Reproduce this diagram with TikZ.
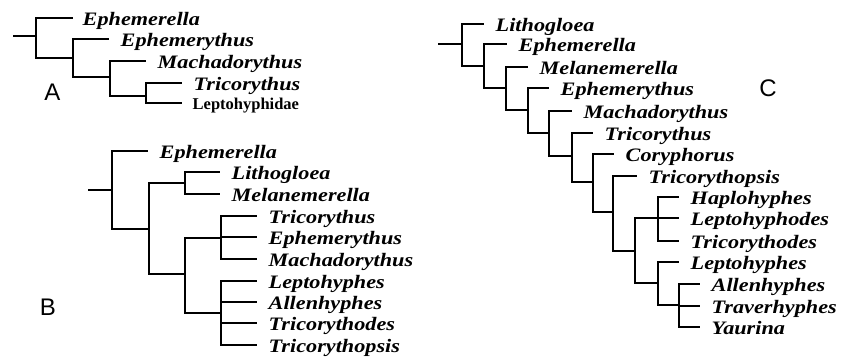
\documentclass[tikz,border=0pt]{standalone}
\usepackage{fontspec}
\setmainfont{Liberation Serif}
\newfontfamily\taxonfont[FakeStretch=1.17]{Liberation Serif Bold Italic}
\newfontfamily\panelfont{Liberation Sans}
\usetikzlibrary{positioning}

\begin{document}
\begin{tikzpicture}[
    x=1pt, y=-1pt,
    line width=1.4pt,
    node distance=11pt,
    taxon/.style={font=\taxonfont\fontsize{19}{21}\selectfont, inner sep=0pt, text height=14pt, text depth=0pt},
    family/.style={font=\rmfamily\fontsize{16.5}{18}\selectfont\bfseries, inner sep=0pt, text height=13pt, text depth=0pt},
    panel/.style={font=\panelfont\fontsize{24}{24}\selectfont, anchor=base, inner sep=0pt}
]
    \useasboundingbox (0,0) rectangle (849,360);

    % tree A
    \coordinate (aroot) at (13,36);
    \coordinate (a1) at (36,36);
    \coordinate (a2) at (73,58);
    \coordinate (a3) at (110,77);
    \coordinate (a4) at (146,96);
    \coordinate (aEph) at (73,18);
    \coordinate (aEphy) at (109,39);
    \coordinate (aMach) at (146,61);
    \coordinate (aTric) at (182,83);
    \coordinate (aLept) at (182,103);
    \node[taxon, right=9pt of aEph] (aEphT) {Ephemerella};
    \node[taxon, right=of aEphy] (aEphyT) {Ephemerythus};
    \node[taxon, right=of aMach] (aMachT) {Machadorythus};
    \node[taxon, right=of aTric] (aTricT) {Tricorythus};
    \node[family, right=10pt of aLept] (aLeptT) {Leptohyphidae};
    \node[panel] (labA) at (52.5,100) {A};

    \draw (aroot) -- (a1);
    \draw (a1) |- (aEph);
    \draw (a1) |- (a2);
    \draw (a2) |- (aEphy);
    \draw (a2) |- (a3);
    \draw (a3) |- (aMach);
    \draw (a3) |- (a4);
    \draw (a4) |- (aTric);
    \draw (a4) |- (aLept);

    % tree B
    \coordinate (broot) at (88,190);
    \coordinate (b1) at (112,190);
    \coordinate (b2) at (149,229);
    \coordinate (b3) at (185,183);
    \coordinate (b4) at (185,274);
    \coordinate (b5) at (221,238);
    \coordinate (b6) at (221,313);
    \coordinate (bEph) at (148,151);
    \coordinate (bLith) at (220,172);
    \coordinate (bMela) at (220,194);
    \coordinate (bTric) at (257,216);
    \coordinate (bEphy) at (257,237);
    \coordinate (bMach) at (257,259);
    \coordinate (bLept) at (257,281);
    \coordinate (bAlle) at (257,302);
    \coordinate (bTrde) at (257,323);
    \coordinate (bTrps) at (257,345);
    \node[taxon, right=of bEph] (bEphT) {Ephemerella};
    \node[taxon, right=of bLith] (bLithT) {Lithogloea};
    \node[taxon, right=of bMela] (bMelaT) {Melanemerella};
    \node[taxon, right=of bTric] (bTricT) {Tricorythus};
    \node[taxon, right=of bEphy] (bEphyT) {Ephemerythus};
    \node[taxon, right=of bMach] (bMachT) {Machadorythus};
    \node[taxon, right=of bLept] (bLeptT) {Leptohyphes};
    \node[taxon, right=of bAlle] (bAlleT) {Allenhyphes};
    \node[taxon, right=of bTrde] (bTrdeT) {Tricorythodes};
    \node[taxon, right=of bTrps] (bTrpsT) {Tricorythopsis};
    \node[panel] (labB) at (48,315) {B};

    \draw (broot) -- (b1);
    \draw (b1) |- (bEph);
    \draw (b1) |- (b2);
    \draw (b2) |- (b3);
    \draw (b2) |- (b4);
    \draw (b3) |- (bLith);
    \draw (b3) |- (bMela);
    \draw (b4) |- (b5);
    \draw (b4) |- (b6);
    \draw (b5) |- (bTric);
    \draw (b5) |- (bEphy);
    \draw (b5) |- (bMach);
    \draw (b6) |- (bLept);
    \draw (b6) |- (bAlle);
    \draw (b6) |- (bTrde);
    \draw (b6) |- (bTrps);

    % tree C
    \coordinate (croot) at (438,44);
    \coordinate (c1) at (462,44);
    \coordinate (c2) at (484,66);
    \coordinate (c3) at (506,88);
    \coordinate (c4) at (528,110);
    \coordinate (c5) at (549,133);
    \coordinate (c6) at (572,156);
    \coordinate (c7) at (593,182);
    \coordinate (c8) at (613,212);
    \coordinate (c9) at (635,251);
    \coordinate (c10) at (658,218);
    \coordinate (c11) at (658,283);
    \coordinate (c12) at (679,305);
    \coordinate (cLith) at (484,24);
    \coordinate (cEph) at (507,44);
    \coordinate (cMela) at (528,67);
    \coordinate (cEphy) at (549,88);
    \coordinate (cMach) at (572,111);
    \coordinate (cTric) at (593,133);
    \coordinate (cCory) at (614,154);
    \coordinate (cTrps) at (637,176);
    \coordinate (cHapl) at (679,197);
    \coordinate (cLpds) at (679,218);
    \coordinate (cTrde) at (679,241);
    \coordinate (cLept) at (679,262);
    \coordinate (cAlle) at (700,284);
    \coordinate (cTrav) at (700,306);
    \coordinate (cYaur) at (700,327);
    \node[taxon, right=of cLith] (cLithT) {Lithogloea};
    \node[taxon, right=of cEph] (cEphT) {Ephemerella};
    \node[taxon, right=of cMela] (cMelaT) {Melanemerella};
    \node[taxon, right=of cEphy] (cEphyT) {Ephemerythus};
    \node[taxon, right=of cMach] (cMachT) {Machadorythus};
    \node[taxon, right=of cTric] (cTricT) {Tricorythus};
    \node[taxon, right=of cCory] (cCoryT) {Coryphorus};
    \node[taxon, right=of cTrps] (cTrpsT) {Tricorythopsis};
    \node[taxon, right=of cHapl] (cHaplT) {Haplohyphes};
    \node[taxon, right=of cLpds] (cLpdsT) {Leptohyphodes};
    \node[taxon, right=of cTrde] (cTrdeT) {Tricorythodes};
    \node[taxon, right=of cLept] (cLeptT) {Leptohyphes};
    \node[taxon, right=of cAlle] (cAlleT) {Allenhyphes};
    \node[taxon, right=of cTrav] (cTravT) {Traverhyphes};
    \node[taxon, right=of cYaur] (cYaurT) {Yaurina};
    \node[panel] (labC) at (768,96) {C};

    \draw (croot) -- (c1);
    \draw (c1) |- (cLith);
    \draw (c1) |- (c2);
    \draw (c2) |- (cEph);
    \draw (c2) |- (c3);
    \draw (c3) |- (cMela);
    \draw (c3) |- (c4);
    \draw (c4) |- (cEphy);
    \draw (c4) |- (c5);
    \draw (c5) |- (cMach);
    \draw (c5) |- (c6);
    \draw (c6) |- (cTric);
    \draw (c6) |- (c7);
    \draw (c7) |- (cCory);
    \draw (c7) |- (c8);
    \draw (c8) |- (cTrps);
    \draw (c8) |- (c9);
    \draw (c9) |- (c10);
    \draw (c9) |- (c11);
    \draw (c10) |- (cHapl);
    \draw (c10) |- (cLpds);
    \draw (c10) |- (cTrde);
    \draw (c11) |- (cLept);
    \draw (c11) |- (c12);
    \draw (c12) |- (cAlle);
    \draw (c12) |- (cTrav);
    \draw (c12) |- (cYaur);
\end{tikzpicture}
\end{document}
